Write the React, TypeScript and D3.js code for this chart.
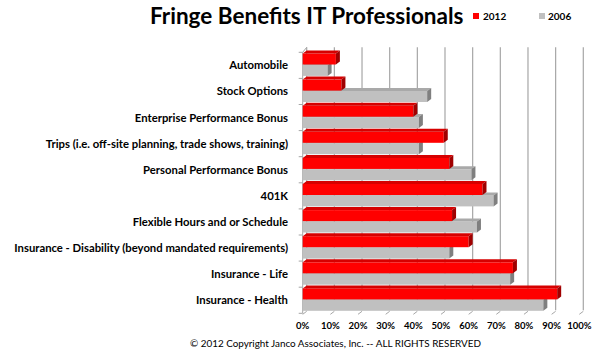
import React from "react";
import * as d3 from "d3";

const categories = [
  "Automobile",
  "Stock Options",
  "Enterprise Performance Bonus",
  "Trips (i.e. off-site planning, trade shows, training)",
  "Personal Performance Bonus",
  "401K",
  "Flexible Hours and or Schedule",
  "Insurance - Disability (beyond mandated requirements)",
  "Insurance - Life",
  "Insurance - Health",
];
const values2012 = [0.12, 0.14, 0.40, 0.51, 0.53, 0.65, 0.54, 0.60, 0.76, 0.92];
const values2006 = [0.09, 0.45, 0.42, 0.42, 0.61, 0.69, 0.63, 0.53, 0.75, 0.87];
const ticks = [0, 0.1, 0.2, 0.3, 0.4, 0.5, 0.6, 0.7, 0.8, 0.9, 1.0];
const seriesNames = ["2012", "2006"];

const W = 600, H = 354;
const DX = 4, DY = -3;
const FONT = "Lato, 'Open Sans', sans-serif";

export default function App() {
  const x = d3.scaleLinear().domain([0, 1]).range([302.7, 579.3]);
  const y = d3.scaleBand<string>().domain(categories).range([52.3, 313.3]).padding(0);
  const barH = 11;
  const pct = d3.format(".0%");

  const bar3d = (v: number, top: number, front: string, topC: string, side: string, key: string) => {
    const x0 = x(0), x1 = x(v);
    const b = top + barH;
    return (
      <g key={key}>
        <rect x={x0} y={top} width={x1 - x0} height={barH} fill={front} />
        <path d={`M${x0},${top}L${x0 + DX},${top + DY}L${x1 + DX},${top + DY}L${x1},${top}Z`} fill={topC} />
        <path d={`M${x1},${top}L${x1 + DX},${top + DY}L${x1 + DX},${b + DY}L${x1},${b}Z`} fill={side} />
      </g>
    );
  };

  const yTop = 52.3, yBot = 313.3;

  return (
    <svg width={W} height={H} style={{ position: "absolute", left: 0, top: 0, background: "#fff" }}>
      {ticks.map((t, i) => (
        <line key={"g" + i} x1={x(t) + DX} x2={x(t) + DX} y1={yTop + DY - 2} y2={yBot + DY}
          stroke="#a6a6a6" strokeWidth={1.2} />
      ))}
      {ticks.map((t, i) => (
        <line key={"f" + i} x1={x(t)} x2={x(t) + DX} y1={yBot + 1} y2={yBot + 1 + DY}
          stroke="#a6a6a6" strokeWidth={1} />
      ))}
      <line x1={x(0)} x2={x(0)} y1={yTop} y2={yBot} stroke="#a6a6a6" strokeWidth={1} />
      <line x1={x(0)} x2={x(0) + DX} y1={yTop} y2={yTop + DY - 2} stroke="#a6a6a6" strokeWidth={1} />
      {categories.map((c, i) => (
        <line key={"lt" + i} x1={x(0) - 4} x2={x(0)} y1={y(c)!} y2={y(c)!} stroke="#a6a6a6" strokeWidth={1} />
      ))}
      <line x1={x(0) - 4} x2={x(0)} y1={yBot} y2={yBot} stroke="#a6a6a6" strokeWidth={1} />

      {categories.map((c, i) => {
        const rTop = y(c)! + 1.2;
        const gTop = rTop + barH + 0.4;
        return (
          <g key={"b" + i}>
            {bar3d(values2006[i], gTop, "#c0c0c0", "#a9a9a9", "#7f7f7f", "g")}
            {bar3d(values2012[i], rTop, "#ff0000", "#d60000", "#a00000", "r")}
          </g>
        );
      })}

      {categories.map((c, i) => (
        <text key={"c" + i} x={288} y={y(c)! + y.bandwidth() / 2} dy="0.35em" textAnchor="end"
          fontFamily={FONT} fontWeight="bold" fontSize={11.3} fill="#000">{c}</text>
      ))}

      {ticks.map((t, i) => (
        <text key={"xt" + i} x={x(t)} y={329} textAnchor="middle"
          fontFamily={FONT} fontWeight="bold" fontSize={9.5} fill="#000">{pct(t)}</text>
      ))}

      <text x={150} y={24} fontFamily={FONT} fontWeight="bold" fontSize={22.5} fill="#000">
        Fringe Benefits IT Professionals
      </text>

      <rect x={473} y={13} width={6} height={6} fill="#ff0000" />
      <text x={483} y={20} fontFamily={FONT} fontWeight="bold" fontSize={10} fill="#000">{seriesNames[0]}</text>
      <rect x={539} y={13} width={6} height={6} fill="#c0c0c0" />
      <text x={548} y={20} fontFamily={FONT} fontWeight="bold" fontSize={10} fill="#000">{seriesNames[1]}</text>

      <text x={335.5} y={347} textAnchor="middle" fontFamily={FONT} fontSize={9.9} fill="#000">
        © 2012 Copyright Janco Associates, Inc. -- ALL RIGHTS RESERVED
      </text>
    </svg>
  );
}
